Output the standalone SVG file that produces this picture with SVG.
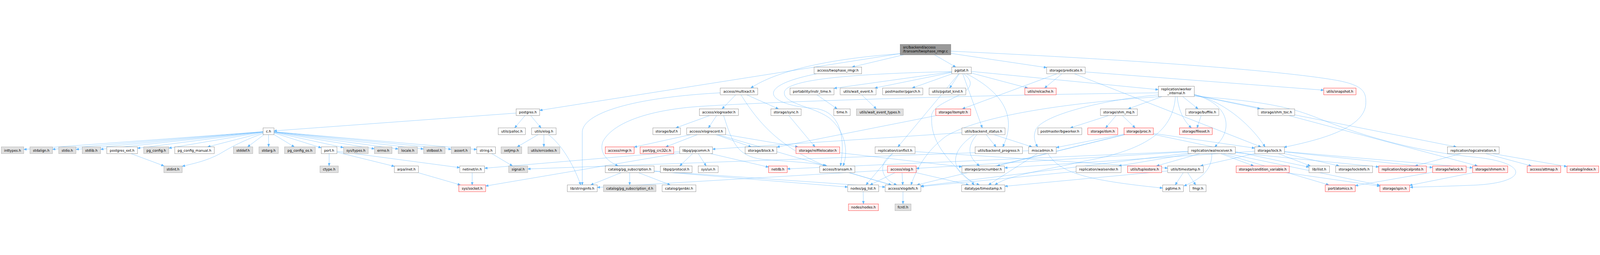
<svg xmlns="http://www.w3.org/2000/svg" width="6191" height="652" viewBox="0 0 6191 652">
<defs>
<style>
svg{max-width:100vw;max-height:100vh}
.e{fill:none;stroke:#63b8ff;stroke-width:1;marker-end:url(#a)}
text{font-family:"DejaVu Sans","Liberation Sans",sans-serif;font-size:13px;text-anchor:middle;fill:#000}
.n rect{fill:#ffffff;stroke:#666666;stroke-width:1}
.g rect{fill:#e0e0e0;stroke:#999999;stroke-width:1}
.r rect{fill:#fff0f0;stroke:#ff0000;stroke-width:1}
.root rect{fill:#999999;stroke:#666666;stroke-width:1}
.root text{text-anchor:start}
</style>
<marker id="a" viewBox="0 0 11 9" refX="11" refY="4.5" markerWidth="11" markerHeight="9" markerUnits="userSpaceOnUse" orient="auto"><path d="M0,0L11,4.5L0,9z" fill="#63b8ff" stroke="#63b8ff" stroke-width="1"/></marker>
</defs>
<rect width="6191" height="652" fill="#ffffff"/>
<g id="connectors">
<path class="e" d="M3483,40.4L2088,259.8"/>
<path class="e" d="M3483,41C3200,60 3000,110 2905,173.5"/>
<path class="e" d="M3496.8,45L3296.7,92.5"/>
<path class="e" d="M3615.7,45L3698,92.5"/>
<path class="e" d="M3679,39.5L4050,94.5"/>
<path class="e" d="M3679,31C4300,60 4900,100 5150,140C5280,160 5285,190 5285,230C5285,330 5100,375 4968,402.5"/>
<path class="e" d="M1997,270.3L1060,339"/>
<path class="e" d="M2031.5,280L1991.5,327.5"/>
<path class="e" d="M2053.5,280L2093.5,327.5"/>
<path class="e" d="M1018,342.1L92,410.8"/>
<path class="e" d="M1018,342.3L203,410.4"/>
<path class="e" d="M1018,342.5L294,410.8"/>
<path class="e" d="M1018,342.8L389,410.2"/>
<path class="e" d="M1018,343.2L532,406.3"/>
<path class="e" d="M1018,344L653,405.8"/>
<path class="e" d="M1018,345.9L803.2,401"/>
<path class="e" d="M1018,349C930,380 880,410 850,428C800,455 750,465 705,476"/>
<path class="e" d="M1021.6,353.5L957.9,401"/>
<path class="e" d="M1039,353.5L1039.5,401"/>
<path class="e" d="M1060,353.2L1139,401"/>
<path class="e" d="M1060,347.1L1243,404.4"/>
<path class="e" d="M1060,345.1L1329,403.6"/>
<path class="e" d="M1060,344L1449,408.4"/>
<path class="e" d="M1060,343.4L1541,409"/>
<path class="e" d="M1060,342.9L1639,409.2"/>
<path class="e" d="M1060,342.6L1746,410.3"/>
<path class="e" d="M1060,342.3L1845,410.9"/>
<path class="e" d="M507.3,427L634.7,474.5"/>
<path class="e" d="M1273.5,427L1273.5,474.5"/>
<path class="e" d="M1304,421.5L1526,476.1"/>
<path class="e" d="M1304,418L1779,481.1"/>
<path class="e" d="M1902.9,427L1983.1,474.5"/>
<path class="e" d="M1617.5,500.5L1782,548"/>
<path class="e" d="M1827,500.5L1827,548"/>
<path class="e" d="M2082.3,353.5L2001.2,401"/>
<path class="e" d="M2104.5,353.5L2104.5,401"/>
<path class="e" d="M2122,353.5C2170,390 2215,460 2247,548"/>
<path class="e" d="M2846.9,199.5L2794.1,254"/>
<path class="e" d="M2888.9,199.5L3012.1,254"/>
<path class="e" d="M2867,199.5C2930,300 3010,400 3195,474.5"/>
<path class="e" d="M2787,192C2450,210 2253,270 2253,345L2253,548"/>
<path class="e" d="M2745.8,280L2615.2,327.5"/>
<path class="e" d="M2772.8,280L2741.2,327.5"/>
<path class="e" d="M2800,280C2835,390 2855,440 2960,450C3060,458 3150,462 3200,474.5"/>
<path class="e" d="M2673.3,353.5L2454,401.7"/>
<path class="e" d="M2698.8,353.5L2575.7,401"/>
<path class="e" d="M2770,353.5L2907,401"/>
<path class="e" d="M2808,353.4L3088.1,401"/>
<path class="e" d="M2777.4,353.5L3449.1,548"/>
<path class="e" d="M2679.9,427L2630.1,474.5"/>
<path class="e" d="M2701.8,427L2732.2,474.5"/>
<path class="e" d="M2749.5,427L2974,479.1"/>
<path class="e" d="M2630,419.4L1875,483.4"/>
<path class="e" d="M2630,424.8L1879,552.2"/>
<path class="e" d="M2404,500.5L2285.5,548"/>
<path class="e" d="M2436.5,500.5L2436.5,548"/>
<path class="e" d="M2470.3,500.5L2593.7,548"/>
<path class="e" d="M2531,495.2L3280,556.1"/>
<path class="e" d="M2531,494.1L3425,556.2"/>
<path class="e" d="M3160,118.5C2900,170 2980,240 3150,252C3260,262 3270,380 3252,474.5"/>
<path class="e" d="M3683,110C3300,118 3040,140 3035,190C3030,235 3150,245 3210,290C3270,340 3285,420 3262,474.5"/>
<path class="e" d="M3683,110.8L3227,174.6"/>
<path class="e" d="M3683,113.1L3384.7,173.5"/>
<path class="e" d="M3684,118.5L3529.5,173.5"/>
<path class="e" d="M3711.8,118.5L3674.7,173.5"/>
<path class="e" d="M3758,115.4L3977,173.5"/>
<path class="e" d="M3758,109.2L4482,179.7"/>
<path class="e" d="M3709.7,118.5L3474.3,401"/>
<path class="e" d="M3730,118.5C3830,200 3590,215 3605,290C3600,400 3700,480 3770,548"/>
<path class="e" d="M3725.2,118.5L3800.8,327.5"/>
<path class="e" d="M3740,118.5C3900,200 3930,300 3880,401"/>
<path class="e" d="M4108.7,118.5L4041.8,173.5"/>
<path class="e" d="M4089.4,118.5L3723.6,254"/>
<path class="e" d="M4199,111.2L5122,181.7"/>
<path class="e" d="M4157.7,118.5L4879.3,401"/>
<path class="e" d="M3160.7,199.5L3239.3,254"/>
<path class="e" d="M3334.1,199.5L3390.9,254"/>
<path class="e" d="M3052.4,280L3153.6,401"/>
<path class="e" d="M3622.7,280L3006,401.8"/>
<path class="e" d="M3722,346L2757,409.8"/>
<path class="e" d="M3815.9,353.5L3854.1,401"/>
<path class="e" d="M3845.8,353.5L3993.2,401"/>
<path class="e" d="M3780,353.5C3740,400 3745,440 3790,474.5"/>
<path class="e" d="M3770,353.5C3670,420 3670,500 3790,548"/>
<path class="e" d="M3980,415.9L2042,486.2"/>
<path class="e" d="M4013.3,427L3824.7,548"/>
<path class="e" d="M4055,427C4100,500 4200,530 4499,560"/>
<path class="e" d="M3452.6,427L3350.9,548"/>
<path class="e" d="M3455,427C3400,460 3400,520 3470,548"/>
<path class="e" d="M3541,419.1L4518,483"/>
<path class="e" d="M3284.9,500.5L3449.1,548"/>
<path class="e" d="M3463.1,500.5L3366.4,548"/>
<path class="e" d="M3490.3,500.5L3493.2,548"/>
<path class="e" d="M3434,490.8L2311,557.6"/>
<path class="e" d="M3545,500.5L3748.8,548"/>
<path class="e" d="M3340,574L3341,621.5"/>
<path class="e" d="M3494,574L3494,621.5"/>
<path class="e" d="M3249,423.7L3722,478"/>
<path class="e" d="M4482,192C3800,200 3000,225 2700,245C2500,260 2370,310 2333,380C2318,420 2345,455 2392,474.5"/>
<path class="e" d="M4490,206.5C4000,240 3760,300 3660,360C3580,420 3545,490 3525,548"/>
<path class="e" d="M4482,200C4300,215 4050,270 4010,330C3995,360 4005,385 4015,401"/>
<path class="e" d="M4548,206.5C4540,330 4450,410 4200,455C4050,490 3900,510 3850,548"/>
<path class="e" d="M4496.4,206.5L4365.4,254"/>
<path class="e" d="M4576.4,206.5L4635.8,254"/>
<path class="e" d="M4555,206.5C4560,260 4580,300 4610,327.5"/>
<path class="e" d="M4621,200.9L4876.4,254"/>
<path class="e" d="M4620,200C4750,230 4780,330 4700,401"/>
<path class="e" d="M4621,198C4750,230 4850,330 4895,401"/>
<path class="e" d="M4621,200.3L5635.4,401"/>
<path class="e" d="M4621,205C4900,225 5000,250 5100,290C5300,370 5500,420 5700,440C5920,460 5920,540 5700,549C5600,553 5520,555 5456,557"/>
<path class="e" d="M4289.1,280L4141.4,327.5"/>
<path class="e" d="M4318.4,280L4278.1,327.5"/>
<path class="e" d="M4343,280L4392.5,327.5"/>
<path class="e" d="M4647.7,280L4631.8,327.5"/>
<path class="e" d="M4987.8,280L5717.2,474.5"/>
<path class="e" d="M4349,351.7L4087,403.4"/>
<path class="e" d="M4352.8,353.5L3857.7,474.5"/>
<path class="e" d="M4352.2,353.5L3547.8,548"/>
<path class="e" d="M4463,348.8L4855,405.7"/>
<path class="e" d="M4463,352.5L5065,479.2"/>
<path class="e" d="M4597,418L3046,485.9"/>
<path class="e" d="M4597,419.6L3545,484.1"/>
<path class="e" d="M4597,425.3L3563,552.5"/>
<path class="e" d="M4611.1,427L4328.4,474.5"/>
<path class="e" d="M4642.6,427L4474.9,474.5"/>
<path class="e" d="M4689,427C4690,480 4660,520 4581,552"/>
<path class="e" d="M4723.4,427L4851.1,474.5"/>
<path class="e" d="M4780,423.1L5335,478.3"/>
<path class="e" d="M4732.5,427L5142,548"/>
<path class="e" d="M4751.1,427L5339,549.1"/>
<path class="e" d="M4855,417.8L3887,482"/>
<path class="e" d="M4855,427L4644.6,474.5"/>
<path class="e" d="M4946.5,427L5070.5,474.5"/>
<path class="e" d="M4970,426.9L5181.7,474.5"/>
<path class="e" d="M4970,420.1L5543,480.6"/>
<path class="e" d="M4970,419L5698,481.6"/>
<path class="e" d="M4164,495.9L3563,554.3"/>
<path class="e" d="M4578.5,500.5L4547.5,548"/>
<path class="e" d="M4595.5,500.5L4626.5,548"/>
<path class="e" d="M4518,494L3888,553.2"/>
<path class="e" d="M4976.3,500.5L5339,552.7"/>
<path class="e" d="M5543,498.8L5244,550.9"/>
<path class="e" d="M5700.6,500.5L5454,549.6"/>
<path class="e" d="M5749.3,427L5925.7,474.5"/>
<path class="e" d="M5775.9,427L6063,476.8"/>
<path class="e" d="M5652.5,427L5475.5,474.5"/>
</g>
<g id="n_root" class="root"><rect x="3483" y="5" width="196" height="40"/><text x="3494" y="21">src/backend/access</text><text x="3494" y="36.5">/transam/twophase_rmgr.c</text></g>
<g id="n_twophase_rmgr_h" class="n"><rect x="3150" y="92.5" width="184" height="26"/><text x="3242" y="110.5">access/twophase_rmgr.h</text></g>
<g id="n_pgstat_h" class="n"><rect x="3683" y="92.5" width="75" height="26"/><text x="3720.5" y="110.5">pgstat.h</text></g>
<g id="n_predicate_h" class="n"><rect x="4050" y="92.5" width="149" height="26"/><text x="4124.5" y="110.5">storage/predicate.h</text></g>
<g id="n_multixact_h" class="n"><rect x="2787" y="173.5" width="145" height="26"/><text x="2859.5" y="191.5">access/multixact.h</text></g>
<g id="n_instr_time_h" class="n"><rect x="3057" y="173.5" width="170" height="26"/><text x="3142" y="191.5">portability/instr_time.h</text></g>
<g id="n_wait_event_h" class="n"><rect x="3251" y="173.5" width="139" height="26"/><text x="3320.5" y="191.5">utils/wait_event.h</text></g>
<g id="n_pgarch_h" class="n"><rect x="3415" y="173.5" width="156" height="26"/><text x="3493" y="191.5">postmaster/pgarch.h</text></g>
<g id="n_pgstat_kind_h" class="n"><rect x="3595" y="173.5" width="142" height="26"/><text x="3666" y="191.5">utils/pgstat_kind.h</text></g>
<g id="n_relcache_h" class="r"><rect x="3965" y="173.5" width="122" height="26"/><text x="4026" y="191.5">utils/relcache.h</text></g>
<g id="n_worker_internal_h" class="n"><rect x="4482" y="166.5" width="139" height="40"/><text x="4551.5" y="183">replication/worker</text><text x="4551.5" y="198">_internal.h</text></g>
<g id="n_snapshot_h" class="r"><rect x="5122" y="173.5" width="125" height="26"/><text x="5184.5" y="191.5">utils/snapshot.h</text></g>
<g id="n_postgres_h" class="n"><rect x="1997" y="254" width="91" height="26"/><text x="2042.5" y="272">postgres.h</text></g>
<g id="n_xlogreader_h" class="n"><rect x="2706" y="254" width="151" height="26"/><text x="2781.5" y="272">access/xlogreader.h</text></g>
<g id="n_sync_h" class="n"><rect x="2983" y="254" width="117" height="26"/><text x="3041.5" y="272">storage/sync.h</text></g>
<g id="n_time_h" class="n"><rect x="3226" y="254" width="64" height="26"/><text x="3258" y="272">time.h</text></g>
<g id="n_wait_event_types_h" class="g"><rect x="3314" y="254" width="181" height="26"/><text x="3404.5" y="272">utils/wait_event_types.h</text></g>
<g id="n_itemptr_h" class="r"><rect x="3621" y="254" width="135" height="26"/><text x="3688.5" y="272">storage/itemptr.h</text></g>
<g id="n_shm_mq_h" class="n"><rect x="4258" y="254" width="143" height="26"/><text x="4329.5" y="272">storage/shm_mq.h</text></g>
<g id="n_buffile_h" class="n"><rect x="4588" y="254" width="128" height="26"/><text x="4652" y="272">storage/buffile.h</text></g>
<g id="n_shm_toc_h" class="n"><rect x="4868" y="254" width="142" height="26"/><text x="4939" y="272">storage/shm_toc.h</text></g>
<g id="n_c_h" class="n"><rect x="1018" y="327.5" width="42" height="26"/><text x="1039" y="345.5">c.h</text></g>
<g id="n_palloc_h" class="n"><rect x="1928" y="327.5" width="105" height="26"/><text x="1980.5" y="345.5">utils/palloc.h</text></g>
<g id="n_elog_h" class="n"><rect x="2057" y="327.5" width="95" height="26"/><text x="2104.5" y="345.5">utils/elog.h</text></g>
<g id="n_buf_h" class="n"><rect x="2526" y="327.5" width="107" height="26"/><text x="2579.5" y="345.5">storage/buf.h</text></g>
<g id="n_xlogrecord_h" class="n"><rect x="2657" y="327.5" width="151" height="26"/><text x="2732.5" y="345.5">access/xlogrecord.h</text></g>
<g id="n_backend_status_h" class="n"><rect x="3722" y="327.5" width="167" height="26"/><text x="3805.5" y="345.5">utils/backend_status.h</text></g>
<g id="n_bgworker_h" class="n"><rect x="4016" y="327.5" width="170" height="26"/><text x="4101" y="345.5">postmaster/bgworker.h</text></g>
<g id="n_dsm_h" class="r"><rect x="4209" y="327.5" width="116" height="26"/><text x="4267" y="345.5">storage/dsm.h</text></g>
<g id="n_proc_h" class="r"><rect x="4349" y="327.5" width="114" height="26"/><text x="4406" y="345.5">storage/proc.h</text></g>
<g id="n_fileset_h" class="r"><rect x="4564" y="327.5" width="127" height="26"/><text x="4627.5" y="345.5">storage/fileset.h</text></g>
<g id="n_inttypes_h" class="g"><rect x="5" y="401" width="87" height="26"/><text x="48.5" y="419">inttypes.h</text></g>
<g id="n_stdalign_h" class="g"><rect x="116" y="401" width="87" height="26"/><text x="159.5" y="419">stdalign.h</text></g>
<g id="n_stdio_h" class="g"><rect x="227" y="401" width="67" height="26"/><text x="260.5" y="419">stdio.h</text></g>
<g id="n_stdlib_h" class="g"><rect x="318" y="401" width="71" height="26"/><text x="353.5" y="419">stdlib.h</text></g>
<g id="n_postgres_ext_h" class="n"><rect x="413" y="401" width="119" height="26"/><text x="472.5" y="419">postgres_ext.h</text></g>
<g id="n_pg_config_h" class="g"><rect x="556" y="401" width="97" height="26"/><text x="604.5" y="419">pg_config.h</text></g>
<g id="n_pg_config_manual_h" class="n"><rect x="676" y="401" width="153" height="26"/><text x="752.5" y="419">pg_config_manual.h</text></g>
<g id="n_stddef_h" class="g"><rect x="903" y="401" width="75" height="26"/><text x="940.5" y="419">stddef.h</text></g>
<g id="n_stdarg_h" class="g"><rect x="1002" y="401" width="75" height="26"/><text x="1039.5" y="419">stdarg.h</text></g>
<g id="n_pg_config_os_h" class="g"><rect x="1101" y="401" width="119" height="26"/><text x="1160.5" y="419">pg_config_os.h</text></g>
<g id="n_port_h" class="n"><rect x="1243" y="401" width="61" height="26"/><text x="1273.5" y="419">port.h</text></g>
<g id="n_sys_types_h" class="g"><rect x="1329" y="401" width="96" height="26"/><text x="1377" y="419">sys/types.h</text></g>
<g id="n_errno_h" class="g"><rect x="1449" y="401" width="68" height="26"/><text x="1483" y="419">errno.h</text></g>
<g id="n_locale_h" class="g"><rect x="1541" y="401" width="74" height="26"/><text x="1578" y="419">locale.h</text></g>
<g id="n_stdbool_h" class="g"><rect x="1639" y="401" width="83" height="26"/><text x="1680.5" y="419">stdbool.h</text></g>
<g id="n_assert_h" class="g"><rect x="1746" y="401" width="75" height="26"/><text x="1783.5" y="419">assert.h</text></g>
<g id="n_string_h" class="n"><rect x="1845" y="401" width="72" height="26"/><text x="1881" y="419">string.h</text></g>
<g id="n_setjmp_h" class="g"><rect x="1939" y="401" width="80" height="26"/><text x="1979" y="419">setjmp.h</text></g>
<g id="n_errcodes_h" class="g"><rect x="2043" y="401" width="123" height="26"/><text x="2104.5" y="419">utils/errcodes.h</text></g>
<g id="n_rmgr_h" class="r"><rect x="2342" y="401" width="112" height="26"/><text x="2398" y="419">access/rmgr.h</text></g>
<g id="n_pg_crc32c_h" class="r"><rect x="2477" y="401" width="130" height="26"/><text x="2542" y="419">port/pg_crc32c.h</text></g>
<g id="n_pqcomm_h" class="n"><rect x="2630" y="401" width="127" height="26"/><text x="2693.5" y="419">libpq/pqcomm.h</text></g>
<g id="n_block_h" class="n"><rect x="2883" y="401" width="123" height="26"/><text x="2944.5" y="419">storage/block.h</text></g>
<g id="n_relfilelocator_h" class="r"><rect x="3080" y="401" width="169" height="26"/><text x="3164.5" y="419">storage/relfilelocator.h</text></g>
<g id="n_conflict_h" class="n"><rect x="3386" y="401" width="155" height="26"/><text x="3463.5" y="419">replication/conflict.h</text></g>
<g id="n_backend_progress_h" class="n"><rect x="3773" y="401" width="183" height="26"/><text x="3864.5" y="419">utils/backend_progress.h</text></g>
<g id="n_miscadmin_h" class="n"><rect x="3980" y="401" width="107" height="26"/><text x="4033.5" y="419">miscadmin.h</text></g>
<g id="n_walreceiver_h" class="n"><rect x="4597" y="401" width="183" height="26"/><text x="4688.5" y="419">replication/walreceiver.h</text></g>
<g id="n_lock_h" class="n"><rect x="4855" y="401" width="115" height="26"/><text x="4912.5" y="419">storage/lock.h</text></g>
<g id="n_logicalrelation_h" class="n"><rect x="5601" y="401" width="200" height="26"/><text x="5701" y="419">replication/logicalrelation.h</text></g>
<g id="n_stdint_h" class="g"><rect x="634" y="474.5" width="71" height="26"/><text x="669.5" y="492.5">stdint.h</text></g>
<g id="n_ctype_h" class="g"><rect x="1238" y="474.5" width="71" height="26"/><text x="1273.5" y="492.5">ctype.h</text></g>
<g id="n_arpa_inet_h" class="n"><rect x="1526" y="474.5" width="93" height="26"/><text x="1572.5" y="492.5">arpa/inet.h</text></g>
<g id="n_netinet_in_h" class="n"><rect x="1779" y="474.5" width="96" height="26"/><text x="1827" y="492.5">netinet/in.h</text></g>
<g id="n_signal_h" class="g"><rect x="1968" y="474.5" width="74" height="26"/><text x="2005" y="492.5">signal.h</text></g>
<g id="n_pg_subscription_h" class="n"><rect x="2342" y="474.5" width="189" height="26"/><text x="2436.5" y="492.5">catalog/pg_subscription.h</text></g>
<g id="n_protocol_h" class="n"><rect x="2555" y="474.5" width="123" height="26"/><text x="2616.5" y="492.5">libpq/protocol.h</text></g>
<g id="n_sys_un_h" class="n"><rect x="2702" y="474.5" width="77" height="26"/><text x="2740.5" y="492.5">sys/un.h</text></g>
<g id="n_netdb_h" class="r"><rect x="2974" y="474.5" width="72" height="26"/><text x="3010" y="492.5">netdb.h</text></g>
<g id="n_transam_h" class="n"><rect x="3172" y="474.5" width="136" height="26"/><text x="3240" y="492.5">access/transam.h</text></g>
<g id="n_xlog_h" class="r"><rect x="3434" y="474.5" width="111" height="26"/><text x="3489.5" y="492.5">access/xlog.h</text></g>
<g id="n_procnumber_h" class="n"><rect x="3722" y="474.5" width="165" height="26"/><text x="3804.5" y="492.5">storage/procnumber.h</text></g>
<g id="n_walsender_h" class="n"><rect x="4164" y="474.5" width="174" height="26"/><text x="4251" y="492.5">replication/walsender.h</text></g>
<g id="n_tuplestore_h" class="r"><rect x="4363" y="474.5" width="132" height="26"/><text x="4429" y="492.5">utils/tuplestore.h</text></g>
<g id="n_utils_timestamp_h" class="n"><rect x="4518" y="474.5" width="138" height="26"/><text x="4587" y="492.5">utils/timestamp.h</text></g>
<g id="n_condition_variable_h" class="r"><rect x="4783" y="474.5" width="206" height="26"/><text x="4886" y="492.5">storage/condition_variable.h</text></g>
<g id="n_ilist_h" class="n"><rect x="5065" y="474.5" width="79" height="26"/><text x="5104.5" y="492.5">lib/ilist.h</text></g>
<g id="n_lockdefs_h" class="n"><rect x="5168" y="474.5" width="143" height="26"/><text x="5239.5" y="492.5">storage/lockdefs.h</text></g>
<g id="n_logicalproto_h" class="r"><rect x="5335" y="474.5" width="184" height="26"/><text x="5427" y="492.5">replication/logicalproto.h</text></g>
<g id="n_lwlock_h" class="r"><rect x="5543" y="474.5" width="130" height="26"/><text x="5608" y="492.5">storage/lwlock.h</text></g>
<g id="n_shmem_h" class="r"><rect x="5698" y="474.5" width="136" height="26"/><text x="5766" y="492.5">storage/shmem.h</text></g>
<g id="n_attmap_h" class="r"><rect x="5909" y="474.5" width="130" height="26"/><text x="5974" y="492.5">access/attmap.h</text></g>
<g id="n_index_h" class="r"><rect x="6063" y="474.5" width="123" height="26"/><text x="6124.5" y="492.5">catalog/index.h</text></g>
<g id="n_sys_socket_h" class="r"><rect x="1775" y="548" width="104" height="26"/><text x="1827" y="566">sys/socket.h</text></g>
<g id="n_stringinfo_h" class="n"><rect x="2195" y="548" width="116" height="26"/><text x="2253" y="566">lib/stringinfo.h</text></g>
<g id="n_pg_subscription_d_h" class="g"><rect x="2335" y="548" width="203" height="26"/><text x="2436.5" y="566">catalog/pg_subscription_d.h</text></g>
<g id="n_genbki_h" class="n"><rect x="2562" y="548" width="131" height="26"/><text x="2627.5" y="566">catalog/genbki.h</text></g>
<g id="n_pg_list_h" class="n"><rect x="3280" y="548" width="120" height="26"/><text x="3340" y="566">nodes/pg_list.h</text></g>
<g id="n_xlogdefs_h" class="n"><rect x="3425" y="548" width="138" height="26"/><text x="3494" y="566">access/xlogdefs.h</text></g>
<g id="n_datatype_timestamp_h" class="n"><rect x="3721" y="548" width="167" height="26"/><text x="3804.5" y="566">datatype/timestamp.h</text></g>
<g id="n_pgtime_h" class="n"><rect x="4499" y="548" width="80" height="26"/><text x="4539" y="566">pgtime.h</text></g>
<g id="n_fmgr_h" class="n"><rect x="4603" y="548" width="64" height="26"/><text x="4635" y="566">fmgr.h</text></g>
<g id="n_atomics_h" class="r"><rect x="5128" y="548" width="116" height="26"/><text x="5186" y="566">port/atomics.h</text></g>
<g id="n_spin_h" class="r"><rect x="5339" y="548" width="115" height="26"/><text x="5396.5" y="566">storage/spin.h</text></g>
<g id="n_nodes_h" class="r"><rect x="3283" y="621.5" width="116" height="26"/><text x="3341" y="639.5">nodes/nodes.h</text></g>
<g id="n_fcntl_h" class="g"><rect x="3463" y="621.5" width="62" height="26"/><text x="3494" y="639.5">fcntl.h</text></g>
</svg>
